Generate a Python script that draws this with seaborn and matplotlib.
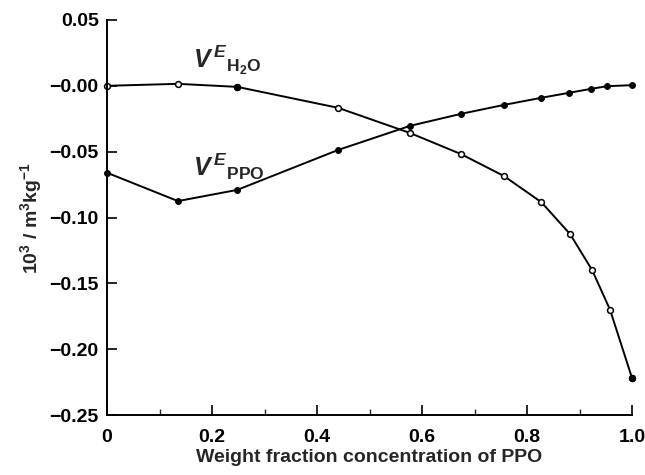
import numpy as np
import pandas as pd
import matplotlib
matplotlib.use("Agg")
import matplotlib.pyplot as plt
import seaborn as sns
from matplotlib.ticker import MultipleLocator

# values
x_h2o = [0.0, 0.135, 0.248, 0.44, 0.577, 0.674, 0.756, 0.827, 0.882, 0.924, 0.958, 1.0]
v_h2o = [0.0, 0.0015, -0.0008, -0.0167, -0.0358, -0.0518, -0.0685, -0.0883, -0.1126, -0.140, -0.170, -0.222]
x_ppo = [0.0, 0.135, 0.248, 0.44, 0.577, 0.674, 0.756, 0.827, 0.880, 0.922, 0.952, 1.0]
v_ppo = [-0.066, -0.0875, -0.079, -0.0487, -0.0304, -0.0213, -0.0145, -0.0091, -0.0053, -0.0023, -0.0003, 0.0005]

yticks = [-0.25, -0.20, -0.15, -0.10, -0.05, 0.0, 0.05]
ytick_labels = ["\u22120.25", "\u22120.20", "\u22120.15", "\u22120.10", "\u22120.05", "\u22120.00", "0.05"]
xticks = [0, 0.2, 0.4, 0.6, 0.8, 1.0]
xtick_labels = ["0", "0.2", "0.4", "0.6", "0.8", "1.0"]

sns.set_style("ticks")
plt.rcParams['font.family'] = ['Liberation Sans', 'DejaVu Sans']
plt.rcParams['font.weight'] = 'bold'
plt.rcParams['axes.labelweight'] = 'bold'
plt.rcParams['mathtext.fontset'] = 'custom'
plt.rcParams['mathtext.rm'] = 'Liberation Sans:bold'
plt.rcParams['mathtext.it'] = 'Liberation Sans:italic'

fig = plt.figure(figsize=(6.45, 4.75), dpi=100)
ax = fig.add_axes([0.166, 0.126, 0.814, 0.832])

df_h = pd.DataFrame({"x": x_h2o, "v": v_h2o})
df_p = pd.DataFrame({"x": x_ppo, "v": v_ppo})

sns.lineplot(data=df_h, x="x", y="v", ax=ax, color="black", lw=1.4,
             marker="o", markersize=4.2, markerfacecolor="white",
             markeredgecolor="black", markeredgewidth=1.1, clip_on=False)
sns.lineplot(data=df_p, x="x", y="v", ax=ax, color="black", lw=1.4,
             marker="o", markersize=4.2, markerfacecolor="black",
             markeredgecolor="black", clip_on=False)
# filled points on the water curve
ax.plot([x_h2o[2], x_h2o[-1]], [v_h2o[2], v_h2o[-1]], "o", color="black", ms=4.2, clip_on=False)

ax.set_xlim(0, 1.0)
ax.set_ylim(-0.25, 0.05)
ax.set_xticks(xticks)
ax.set_xticklabels(xtick_labels)
ax.xaxis.set_minor_locator(MultipleLocator(0.1))
ax.set_yticks(yticks)
ax.set_yticklabels(ytick_labels)
ax.tick_params(axis="both", which="major", direction="in", length=7, width=1.2,
               labelsize=14, colors="black", pad=6)
ax.tick_params(axis="x", which="major", pad=10)
ax.tick_params(axis="x", which="minor", direction="in", length=4, width=1.0)
for s in ["left", "bottom"]:
    ax.spines[s].set_linewidth(1.4)
    ax.spines[s].set_color("black")
sns.despine(ax=ax)

ax.text(0.163, 0.0195, r"$\mathit{V}^{\,\mathit{E}}{}_{\mathrm{H_2O}}$", fontsize=18, va="center")
ax.text(0.163, -0.0616, r"$\mathit{V}^{\,\mathit{E}}{}_{\mathrm{PPO}}$", fontsize=18, va="center")

ax.set_xlabel("Weight fraction concentration of PPO", fontsize=14, fontweight="bold", labelpad=2)
ax.set_ylabel(r"10$^3$ / m$^3$kg$^{-1}$", fontsize=14, fontweight="bold", labelpad=4)

fig.savefig("out.png", dpi=100)
